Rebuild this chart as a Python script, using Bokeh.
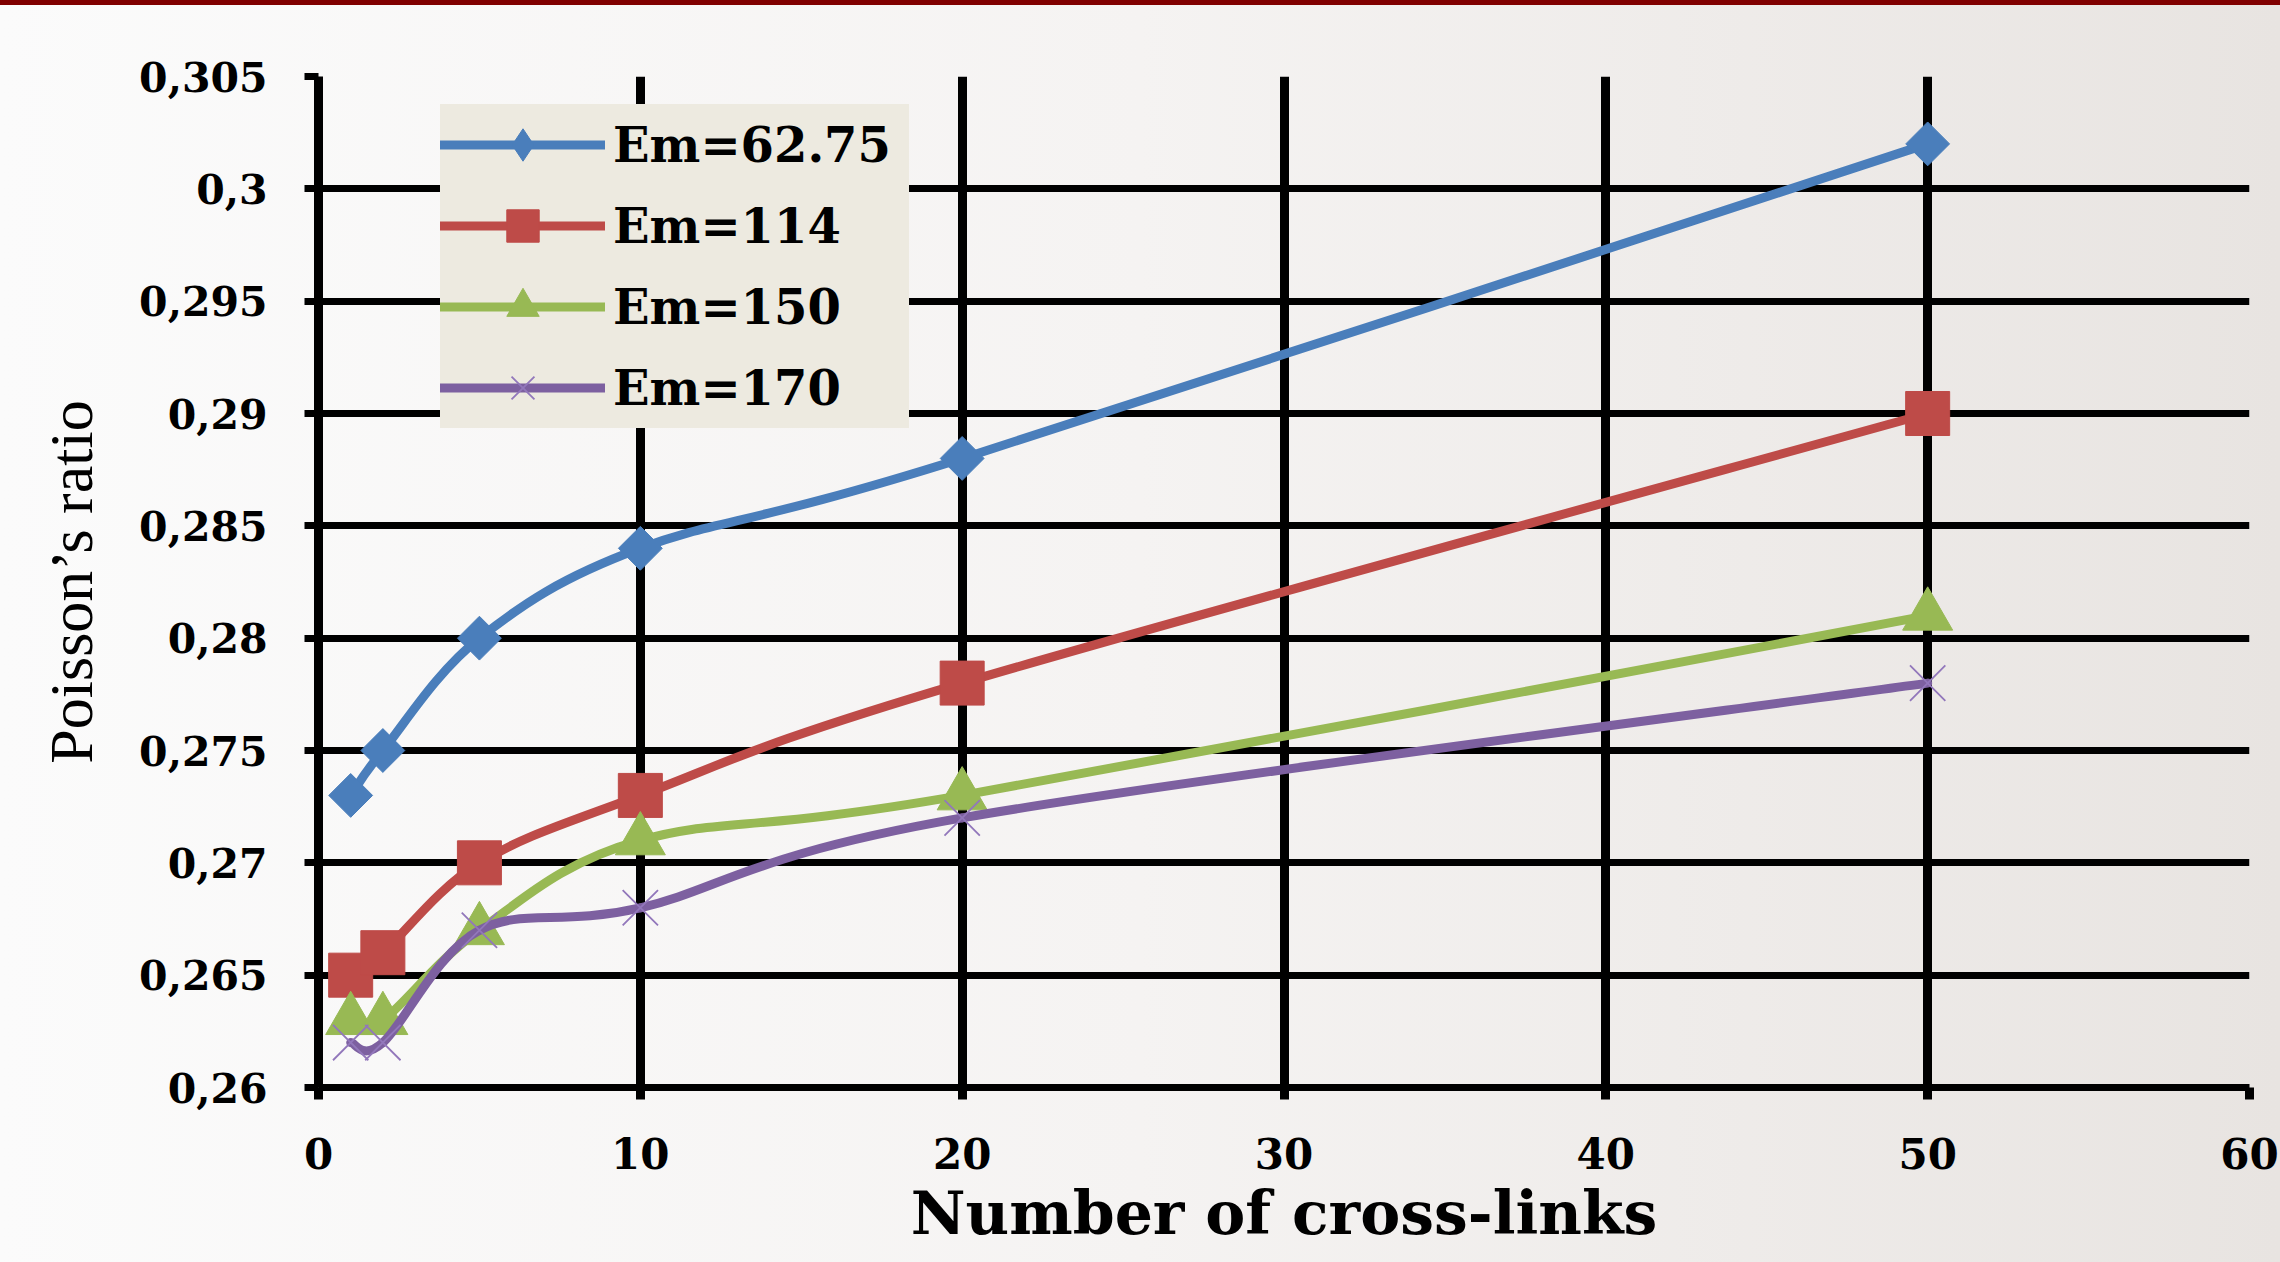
import math
from bokeh.plotting import figure
from bokeh.models import (FixedTicker, CustomJSTickFormatter, Legend, LegendItem,
                          Range1d, ColumnDataSource)
from bokeh.embed import file_html
from bokeh.resources import INLINE

# ---------------- data ----------------
x_links = [1, 2, 5, 10, 20, 50]
series_names = ["Em=62.75", "Em=114", "Em=150", "Em=170"]
nu_em_62_75 = [0.273, 0.275, 0.280, 0.284, 0.288, 0.302]
nu_em_114 = [0.265, 0.266, 0.270, 0.273, 0.278, 0.290]
nu_em_150 = [0.263, 0.263, 0.267, 0.271, 0.273, 0.281]
nu_em_170 = [0.262, 0.262, 0.267, 0.268, 0.272, 0.278]

x_ticks = [0, 10, 20, 30, 40, 50, 60]
x_tick_labels = ["0", "10", "20", "30", "40", "50", "60"]
y_ticks = [0.26, 0.265, 0.27, 0.275, 0.28, 0.285, 0.29, 0.295, 0.3, 0.305]
y_tick_labels = ["0,26", "0,265", "0,27", "0,275", "0,28", "0,285", "0,29", "0,295", "0,3", "0,305"]

x_title = "Number of cross-links"
y_title = "Poisson\u2019s ratio"

# ---------------- styling ----------------
colors = ["#4A7EBB", "#BE4B48", "#98B954", "#7D60A0"]
marker_colors = ["#4A7EBB", "#BE4B48", "#98B954", "#9277BB"]
markers = ["square", "square", "triangle", "x"]
legend_markers = ["diamond", "square", "triangle", "x"]
marker_sizes = [31, 44, 50, 50]
marker_angles = [math.pi / 4, 0, 0, 0]


def smooth_segments(xs, ys):
    """Bezier control points (Catmull-Rom style smoothing, as in a spreadsheet 'smoothed line')."""
    n = len(xs)
    d = dict(x0=[], y0=[], x1=[], y1=[], cx0=[], cy0=[], cx1=[], cy1=[])
    for i in range(n - 1):
        a = i - 1 if i > 0 else i
        b = i + 2 if i + 2 < n else i + 1
        d["x0"].append(xs[i]); d["y0"].append(ys[i])
        d["x1"].append(xs[i + 1]); d["y1"].append(ys[i + 1])
        d["cx0"].append(xs[i] + (xs[i + 1] - xs[a]) / 6.0)
        d["cy0"].append(ys[i] + (ys[i + 1] - ys[a]) / 6.0)
        d["cx1"].append(xs[i + 1] - (xs[b] - xs[i]) / 6.0)
        d["cy1"].append(ys[i + 1] - (ys[b] - ys[i]) / 6.0)
    return d


p = figure(width=2280, height=1262, output_backend="svg", toolbar_location=None,
           x_range=Range1d(0, 60), y_range=Range1d(0.26, 0.305),
           min_border_left=318, min_border_right=31, min_border_top=76, min_border_bottom=175,
           border_fill_color=None, background_fill_color=None, outline_line_color=None)
p.styles = {"background": "linear-gradient(to right, #fbfbfb 0%, #f5f3f2 50%, #e8e4e1 100%)",
            "box-shadow": "inset 0 5px 0 0 #800000"}

fmt_code = """
let best = 0, d = Infinity;
for (let i = 0; i < tick_values.length; i++) {
  const e = Math.abs(tick_values[i] - tick);
  if (e < d) { d = e; best = i; }
}
return tick_labels[best];
"""
p.xaxis.ticker = FixedTicker(ticks=x_ticks)
p.yaxis.ticker = FixedTicker(ticks=y_ticks)
p.xaxis.formatter = CustomJSTickFormatter(args=dict(tick_values=x_ticks, tick_labels=x_tick_labels), code=fmt_code)
p.yaxis.formatter = CustomJSTickFormatter(args=dict(tick_values=y_ticks, tick_labels=y_tick_labels), code=fmt_code)

for ax in (p.xaxis, p.yaxis):
    ax.axis_line_color = "black"
    ax.major_tick_line_color = "black"
    ax.minor_tick_line_color = None
    ax.major_tick_in = 0
    ax.major_label_text_font = "DejaVu Serif"
    ax.major_label_text_font_style = "bold"
    ax.major_label_text_color = "black"
    ax.axis_label_text_color = "black"

p.xaxis.major_label_text_font_size = "42px"
p.xaxis.axis_line_width = 7
p.xaxis.major_tick_line_width = 9
p.xaxis.major_tick_out = 12
p.xaxis.major_label_standoff = 38
p.xaxis.axis_label = x_title
p.xaxis.axis_label_standoff = 6
p.xaxis.axis_label_text_font = "DejaVu Serif"
p.xaxis.axis_label_text_font_style = "bold"
p.xaxis.axis_label_text_font_size = "60px"

p.yaxis.major_label_text_font_size = "41px"
p.yaxis.axis_line_width = 9
p.yaxis.major_tick_line_width = 7
p.yaxis.major_tick_out = 14
p.yaxis.major_label_standoff = 37
p.yaxis.axis_label = y_title
p.yaxis.axis_label_standoff = 31
p.yaxis.axis_label_text_font = "Liberation Serif"
p.yaxis.axis_label_text_font_style = "normal"
p.yaxis.axis_label_text_font_size = "62px"

p.xgrid.grid_line_color = "black"
p.xgrid.grid_line_width = 9
p.ygrid.grid_line_color = "black"
p.ygrid.grid_line_width = 7

all_series = [nu_em_62_75, nu_em_114, nu_em_150, nu_em_170]
items = []
for k, ys in enumerate(all_series):
    seg = ColumnDataSource(smooth_segments(x_links, ys))
    r_line = p.bezier(x0="x0", y0="y0", x1="x1", y1="y1", cx0="cx0", cy0="cy0",
                      cx1="cx1", cy1="cy1", source=seg, line_color=colors[k],
                      line_width=9, line_cap="round")
    pts = ColumnDataSource(dict(x=x_links, y=ys))
    legend_mark = None
    if legend_markers[k] != markers[k]:
        # same points drawn as a plain diamond, fully covered by the rotated square on top;
        # it provides the (unrotated) diamond key in the legend
        legend_mark = p.scatter("x", "y", source=pts, marker=legend_markers[k], size=28,
                                fill_color=marker_colors[k], line_color=marker_colors[k])
    if markers[k] == "x":
        r_mark = p.scatter("x", "y", source=pts, marker="x", size=marker_sizes[k],
                           line_color=marker_colors[k], line_width=1.8)
    else:
        r_mark = p.scatter("x", "y", source=pts, marker=markers[k], size=marker_sizes[k],
                           angle=marker_angles[k], fill_color=marker_colors[k],
                           line_color=marker_colors[k], line_width=1)
    key = legend_mark if legend_mark is not None else r_mark
    items.append(LegendItem(label=series_names[k], renderers=[r_line, key]))

legend = Legend(items=items, location=(122, 659), padding=0, spacing=0,
                glyph_width=165, glyph_height=81, label_height=81, label_width=296,
                label_standoff=8, label_text_font="DejaVu Serif", label_text_font_style="bold",
                label_text_font_size="48px", label_text_color="black",
                background_fill_color="#EDEAE0", background_fill_alpha=1.0,
                border_line_color=None, margin=0)
p.add_layout(legend)

open("out.html", "w").write(file_html(p, INLINE))
